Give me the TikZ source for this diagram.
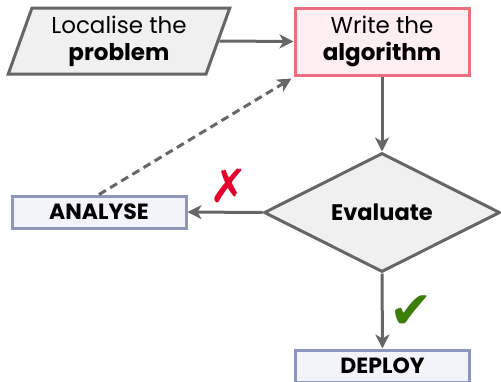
\documentclass[tikz,border=0pt]{standalone}
\usepackage{fontspec}
\setmainfont{Poppins}
\newfontfamily\symfont{DejaVu Sans}
\usetikzlibrary{shapes.geometric,arrows.meta}
\definecolor{linegray}{HTML}{666666}
\definecolor{boxgray}{HTML}{F0F0F0}
\definecolor{pinkfill}{HTML}{FDEEF1}
\definecolor{pinkline}{HTML}{EC6F80}
\definecolor{bluefill}{HTML}{F3F4F9}
\definecolor{blueline}{HTML}{8F96BB}
\definecolor{crossred}{HTML}{E4002B}
\definecolor{tickgreen}{HTML}{3D7D0A}
\tikzset{
  every node/.style={font=\fontsize{23}{27}\selectfont, align=center, inner sep=0pt},
  graybox/.style={draw=linegray, fill=boxgray, line width=3pt},
  startbox/.style={graybox, trapezium, trapezium left angle=70, trapezium right angle=110,
    trapezium stretches=true, minimum width=222pt, minimum height=66pt},
  pinkbox/.style={draw=pinkline, fill=pinkfill, line width=3pt, minimum width=174pt, minimum height=67pt},
  bluebox/.style={draw=blueline, fill=bluefill, line width=3pt, minimum width=174pt, minimum height=32pt, font=\fontsize{22}{24}\selectfont\bfseries},
  decision/.style={graybox, diamond, minimum width=236pt, minimum height=119pt, font=\fontsize{22.5}{25}\selectfont\bfseries},
  flow/.style={draw=linegray, line width=3pt, -{Stealth[length=14pt,width=14pt,inset=4pt]}},
  retry/.style={flow, dashed, dash pattern=on 8pt off 5pt},
}
\begin{document}
\begin{tikzpicture}[x=1pt,y=-1pt]
  \useasboundingbox (0,0) rectangle (501,381);
  \node[startbox] (loc) at (119,41) {Localise the\\\textbf{problem}};
  \node[pinkbox] (write) at (382,41.5) {Write the\\\textbf{algorithm}};
  \node[decision] (eval) at (382,212.5) {Evaluate};
  \node[bluebox] (analyse) at (99,212) {ANALYSE};
  \node[bluebox] (deploy) at (382.5,366) {DEPLOY};
  \node[text=crossred, font=\symfont\fontsize{46}{46}\selectfont] (cross) at (229,186) {✗};
  \node[text=tickgreen, font=\symfont\fontsize{52}{52}\selectfont] (tick) at (411,312) {✔};

  \draw[flow] (loc.east) -- (write.west);
  \draw[flow] (write.south) -- (eval.north);
  \draw[flow] (eval.west) -- (analyse.east);
  \draw[flow] (eval.south) -- (deploy.north);
  \draw[retry] (analyse.north) -- ([shift={(-2pt,-2pt)}]write.south west);
\end{tikzpicture}
\end{document}
